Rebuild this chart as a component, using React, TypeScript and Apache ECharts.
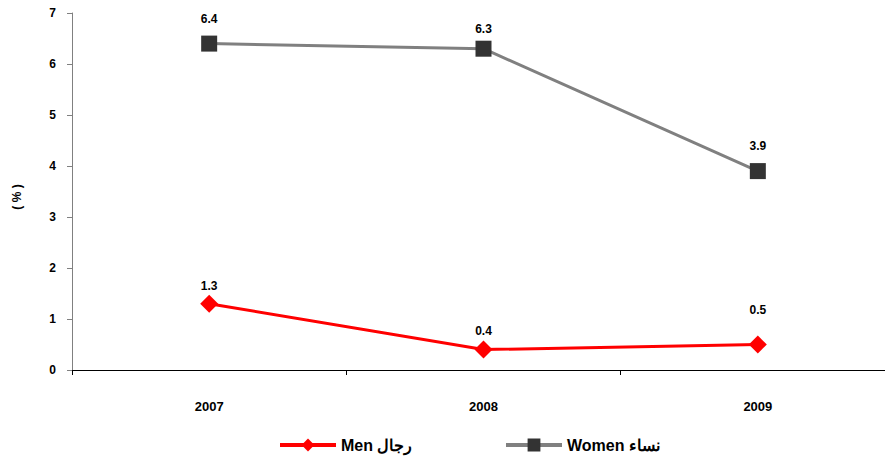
import React, { useEffect, useRef } from "react";
import * as echarts from "echarts";

const categories = ["2007", "2008", "2009"];
const menValues = [1.3, 0.4, 0.5];
const womenValues = [6.4, 6.3, 3.9];
const yTicks = [0, 1, 2, 3, 4, 5, 6, 7];
const menName = "Men رجال";
const womenName = "Women نساء";

export default function App() {
  const ref = useRef<HTMLDivElement>(null);
  useEffect(() => {
    const chart = echarts.init(ref.current!, null, { renderer: "svg" });
    const font = "'Liberation Sans', Arial, sans-serif";
    const legendText = { fontFamily: font, fontWeight: "bold", fontSize: 16, color: "#000" };
    const menLabelGap = [3, 4, 20];
    const womenLabelGap = [11, 6, 11];
    const labelBase = {
      show: true,
      position: "top",
      fontWeight: "bold",
      fontSize: 12,
      color: "#000",
      fontFamily: font,
    };
    chart.setOption({
      animation: false,
      backgroundColor: "#ffffff",
      textStyle: { fontFamily: font },
      grid: {
        left: 72,
        width: 823,
        top: 13,
        height: 357,
        containLabel: false,
        outerBoundsMode: "none",
      },
      legend: [
        {
          top: 432,
          left: 273,
          itemWidth: 56,
          itemHeight: 16,
          lineStyle: { width: 4 },
          textStyle: legendText,
          data: [menName],
        },
        {
          top: 432,
          left: 499,
          itemWidth: 56,
          itemHeight: 16,
          lineStyle: { width: 4 },
          textStyle: legendText,
          data: [womenName],
        },
      ],
      graphic: [
        {
          type: "text",
          x: 17,
          y: 197,
          rotation: Math.PI / 2,
          style: {
            text: "( % )",
            font: `bold 12px ${font}`,
            fill: "#000",
            align: "center",
            verticalAlign: "middle",
          },
        },
      ],
      xAxis: {
        type: "category",
        data: categories,
        boundaryGap: true,
        axisLine: { lineStyle: { color: "#000", width: 1 } },
        axisTick: { show: true, length: 5, lineStyle: { color: "#000" } },
        axisLabel: { margin: 30, fontWeight: "bold", fontSize: 13, color: "#000", fontFamily: font },
        splitLine: { show: false },
      },
      yAxis: {
        type: "value",
        min: yTicks[0],
        max: yTicks[yTicks.length - 1],
        interval: 1,
        axisLine: { show: true, lineStyle: { color: "#808080", width: 1 } },
        axisTick: { show: true, length: 5, lineStyle: { color: "#808080" } },
        axisLabel: { margin: 16, fontWeight: "bold", fontSize: 12, color: "#000", fontFamily: font },
        splitLine: { show: false },
      },
      series: [
        {
          name: menName,
          type: "line",
          data: menValues.map((v, i) => ({ value: v, label: { distance: menLabelGap[i] } })),
          symbol: "diamond",
          symbolSize: 18,
          itemStyle: { color: "#ff0000" },
          lineStyle: { color: "#ff0000", width: 3 },
          label: labelBase,
        },
        {
          name: womenName,
          type: "line",
          data: womenValues.map((v, i) => ({ value: v, label: { distance: womenLabelGap[i] } })),
          symbol: "rect",
          symbolSize: 16,
          itemStyle: { color: "#333333", borderRadius: 1 },
          lineStyle: { color: "#808080", width: 3 },
          label: labelBase,
        },
      ],
    });
    return () => chart.dispose();
  }, []);
  return <div ref={ref} style={{ width: 885, height: 456, position: "absolute", left: 0, top: 0 }} />;
}
